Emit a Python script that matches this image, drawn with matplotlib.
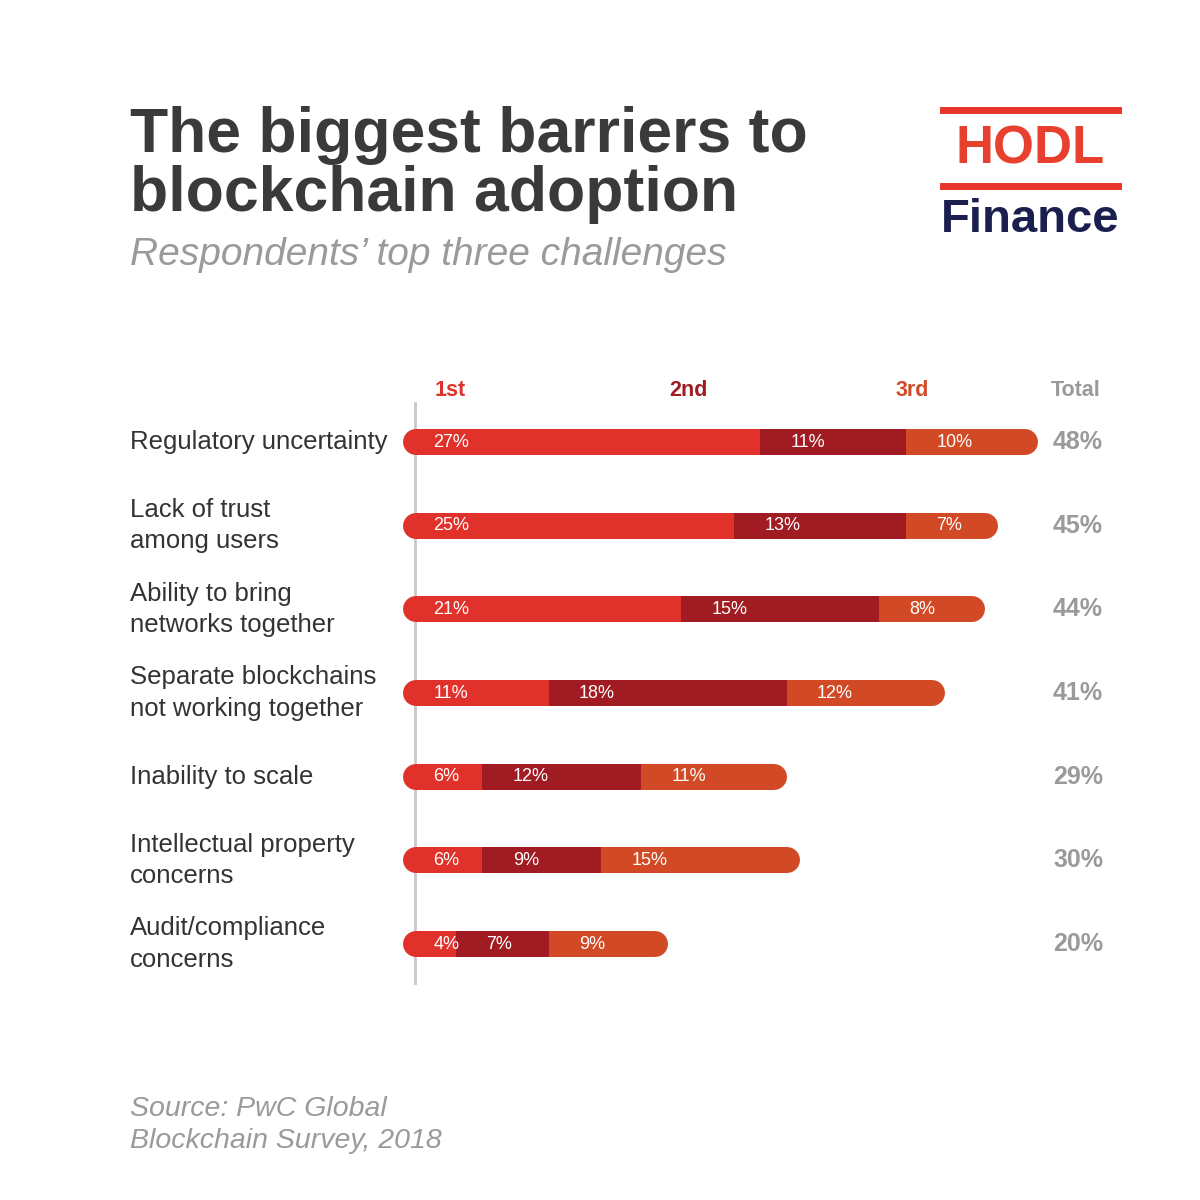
import matplotlib
matplotlib.use("Agg")
import matplotlib.pyplot as plt

categories = ["Regulatory uncertainty", "Lack of trust\namong users", "Ability to bring\nnetworks together",
              "Separate blockchains\nnot working together", "Inability to scale",
              "Intellectual property\nconcerns", "Audit/compliance\nconcerns"]
first = [27, 25, 21, 11, 6, 6, 4]
second = [11, 13, 15, 18, 12, 9, 7]
third = [10, 7, 8, 12, 11, 15, 9]
totals = [48, 45, 44, 41, 29, 30, 20]
headers = ["1st", "2nd", "3rd", "Total"]

C1, C2, C3 = "#e0312a", "#a01c22", "#d24a25"
GREY = "#9a9a9a"
plt.rcParams['font.family'] = ['Liberation Sans', 'DejaVu Sans']

fig = plt.figure(figsize=(12, 12), dpi=100)
fig.patch.set_facecolor("white")
ax = fig.add_axes([403/1200, 1-985/1200, 727/1200, 585/1200])
ax.set_xlim(0, 727/13.23)
ax.set_ylim(6.49, -0.502)
ax.axis("off")

lw = 26*72/100  # bar thickness in points
r = 13/13.23
ax.plot([0.9, 0.9], [-0.47, 6.49], color="#c8c8c8", lw=2, zorder=1)
for i in range(len(categories)):
    a, b, c = first[i], second[i], third[i]
    ax.plot([r, a], [i, i], color=C1, lw=lw, solid_capstyle="round", zorder=2)
    ax.plot([a+b, a+b+c-r], [i, i], color=C3, lw=lw, solid_capstyle="round", zorder=2)
    ax.barh(i, b, left=a, height=26/83.67, color=C2, zorder=3)
    for left, v in [(0, a), (a, b), (a+b, c)]:
        ax.text(left+2.3, i, f"{v}%", color="white", fontsize=13, va="center", ha="left", zorder=4)
    fig.text(130/1200, 1-(442+83.67*i)/1200, categories[i], fontsize=18.5, color="#333333",
             va="center", ha="left", linespacing=1.4)
    fig.text(1078/1200, 1-(442+83.67*i)/1200, f"{totals[i]}%", fontsize=18, color=GREY,
             fontweight="bold", va="center", ha="center")

for x, h, col in zip([450, 688, 912, 1076], headers, [C1, C2, C3, GREY]):
    fig.text(x/1200, 1-390/1200, h, fontsize=15.5, color=col, fontweight="bold", ha="center", va="center")

fig.text(130/1200, 1-165/1200, "The biggest barriers to\nblockchain adoption", fontsize=45, fontweight="bold",
         color="#3a3a3a", ha="left", va="center", linespacing=1.0)
fig.text(130/1200, 1-255/1200, "Respondents\u2019 top three challenges", fontsize=28, style="italic",
         color="#9a9a9a", ha="left", va="center")
fig.text(130/1200, 1-1125/1200, "Source: PwC Global\nBlockchain Survey, 2018", fontsize=20.5, style="italic",
         color="#9a9a9a", ha="left", va="center", linespacing=1.3)

# logo
fig.add_artist(plt.Line2D([943/1200, 1118/1200], [1-110/1200]*2, color="#e8352a", lw=5))
fig.add_artist(plt.Line2D([943/1200, 1118/1200], [1-186/1200]*2, color="#e8352a", lw=5))
fig.text(1030/1200, 1-150/1200, "HODL", fontsize=38, fontweight="bold", color="#e8402e", ha="center", va="center")
fig.text(1030/1200, 1-220/1200, "Finance", fontsize=34, fontweight="bold", color="#1a1f4e", ha="center", va="center")

fig.savefig("out.png", dpi=100, facecolor="white")
